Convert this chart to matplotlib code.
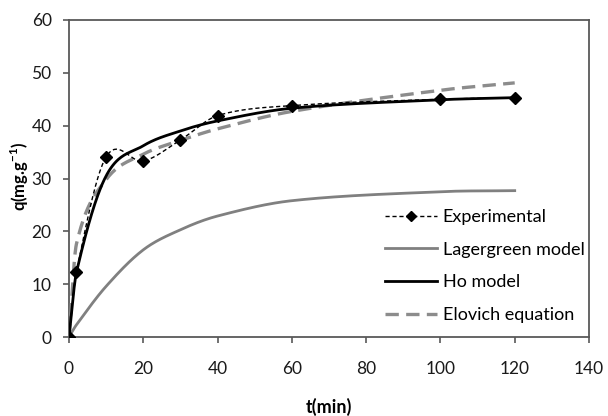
import numpy as np
import matplotlib
matplotlib.use("Agg")
import matplotlib.pyplot as plt
from matplotlib.lines import Line2D

# ---- data ----
t_exp = [0, 2, 10, 20, 30, 40, 60, 100, 120]
q_exp = [0, 12.3, 34.1, 33.3, 37.3, 41.9, 43.8, 45.0, 45.3]

t_model = [0, 2, 10, 20, 30, 40, 60, 100, 120]
q_lagergreen = [0, 2.3, 9.6, 16.5, 20.3, 22.9, 25.8, 27.5, 27.7]
q_ho = [0, 12.2, 30.5, 36.2, 39.0, 40.9, 43.3, 44.9, 45.3]
q_elovich = [0, 17.6, 29.8, 34.6, 37.2, 39.4, 42.7, 46.7, 48.1]

x_ticks = [0, 20, 40, 60, 80, 100, 120, 140]
y_ticks = [0, 10, 20, 30, 40, 50, 60]

plt.rcParams['font.family'] = ['Lato', 'DejaVu Sans']
plt.rcParams['mathtext.fontset'] = 'custom'
plt.rcParams['mathtext.rm'] = 'Lato'
plt.rcParams['mathtext.bf'] = 'Lato:bold'


def smooth(x, y, n=40):
    """Smoothed line through the points (cubic Hermite, Catmull-Rom tangents)."""
    x = np.asarray(x, float)
    y = np.asarray(y, float)
    m = np.empty_like(y)
    m[0] = (y[1] - y[0]) / (x[1] - x[0])
    m[-1] = (y[-1] - y[-2]) / (x[-1] - x[-2])
    m[1:-1] = (y[2:] - y[:-2]) / (x[2:] - x[:-2])
    xs, ys = [x[0]], [y[0]]
    for i in range(len(x) - 1):
        h = x[i + 1] - x[i]
        s = np.linspace(0, 1, n)[1:]
        h00 = 2 * s**3 - 3 * s**2 + 1
        h10 = s**3 - 2 * s**2 + s
        h01 = -2 * s**3 + 3 * s**2
        h11 = s**3 - s**2
        xs.extend(x[i] + s * h)
        ys.extend(h00 * y[i] + h10 * h * m[i] + h01 * y[i + 1] + h11 * h * m[i + 1])
    return np.array(xs), np.array(ys)


fig = plt.figure(figsize=(6.08, 4.16), dpi=100)
ax = fig.add_axes([69 / 608, 1 - 337 / 416, 520 / 608, 317 / 416])

gray = '#808080'
lgray = '#8c8c8c'

xs, ys = smooth(t_model, q_lagergreen)
ax.plot(xs, ys, color=gray, lw=2.0, zorder=2)
xs, ys = smooth(t_model, q_elovich)
ax.plot(xs, ys, color=lgray, lw=2.4, dashes=(4, 2.2), zorder=3)
xs, ys = smooth(t_model, q_ho)
ax.plot(xs, ys, color='black', lw=2.0, zorder=4)
xs, ys = smooth(t_exp, q_exp)
ax.plot(xs, ys, color='black', lw=1.0, dashes=(3, 2), zorder=5)
ax.plot(t_exp, q_exp, linestyle='none', marker='D', color='black', ms=6.0, zorder=6)

handles = [
    Line2D([], [], color='black', lw=1.0, dashes=(3, 2), marker='D', ms=5.5),
    Line2D([], [], color=gray, lw=2.0),
    Line2D([], [], color='black', lw=2.0),
    Line2D([], [], color=lgray, lw=2.4, dashes=(4, 2.2)),
]
labels = ['Experimental', 'Lagergreen model', 'Ho model', 'Elovich equation']
leg = ax.legend(handles, labels, loc='upper left',
                bbox_to_anchor=(385 / 608, 1 - 209 / 416), bbox_transform=fig.transFigure,
                frameon=False, fontsize=13, handlelength=2.9, handletextpad=0.3,
                labelspacing=0.92, borderpad=0, borderaxespad=0)

ax.set_xlim(0, 140)
ax.set_ylim(0, 60)
ax.set_xticks(x_ticks)
ax.set_yticks(y_ticks)
ax.tick_params(direction='out', length=4.5, width=1.2, color='#595959',
               labelsize=12.5, labelcolor='#1a1a1a')
ax.tick_params(axis='y', pad=8)
ax.tick_params(axis='x', pad=13)
for s in ax.spines.values():
    s.set_color('#595959')
    s.set_linewidth(1.3)

ax.set_xlabel('t(min)', fontsize=13, fontweight='bold')
ax.xaxis.set_label_coords(0.5, -(407 - 337) / 317)
ax.xaxis.label.set_va('center')
ax.set_ylabel('q(mg.g$^{\\mathbf{-1}}$)', fontsize=12, fontweight='bold')
ax.yaxis.set_label_coords(-(69 - 20) / 520, (337 - 176) / 317)
ax.yaxis.label.set_va('center')

fig.savefig('out.png', dpi=100)
